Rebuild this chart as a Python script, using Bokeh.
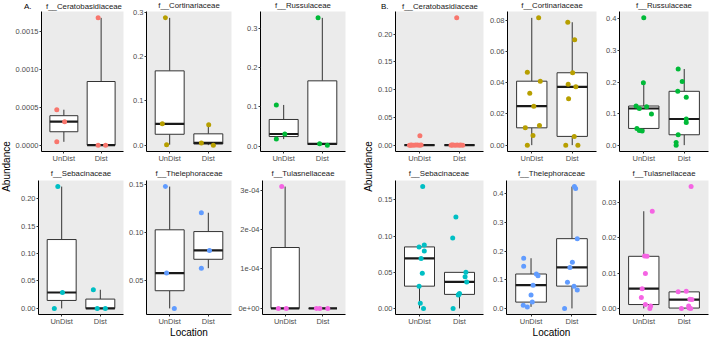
import numpy as np
from bokeh.plotting import figure
from bokeh.layouts import row, column
from bokeh.models import Range1d, FixedTicker, Label
from bokeh.embed import file_html
from bokeh.resources import INLINE

FONT = "Liberation Sans"

# x categories
groups = ["UnDist", "Dist"]
group_pos = [1, 2]

family_colors = {
    "f__Ceratobasidiaceae": "#F8766D",
    "f__Cortinariaceae": "#B79F00",
    "f__Russulaceae": "#00BA38",
    "f__Sebacinaceae": "#00BFC4",
    "f__Thelephoraceae": "#619CFF",
    "f__Tulasnellaceae": "#F564E3",
}

# ---- Panel A: relative abundance per sample (3 samples per location) ----
a_cer_undist = [0.000467, 0.000309, 0.000044]
a_cer_dist = [0.001677, 0.0, 0.0]
a_cor_undist = [0.287, 0.048, 0.001]
a_cor_dist = [0.046, 0.005, 0.0]
a_rus_undist = [0.105, 0.031, 0.018]
a_rus_dist = [0.327, 0.006, 0.0026]
a_seb_undist = [0.222, 0.029, 0.0]
a_seb_dist = [0.034, 0.0, 0.0]
a_the_undist = [0.1483, 0.0574, 0.0202]
a_the_dist = [0.1208, 0.0812, 0.0625]
a_tul_undist = [0.000309, 0.0, 0.0]
a_tul_dist = [0.0, 0.0, 0.0]

# horizontal jitter of the sample points (category units)
a_cer_undist_jit = [-0.19, 0.02, -0.19]
a_cer_dist_jit = [-0.08, -0.08, 0.12]
a_cor_undist_jit = [-0.11, -0.19, -0.08]
a_cor_dist_jit = [0.01, -0.18, 0.13]
a_rus_undist_jit = [-0.19, 0.03, -0.19]
a_rus_dist_jit = [-0.11, -0.07, 0.13]
a_seb_undist_jit = [-0.10, 0.02, -0.19]
a_seb_dist_jit = [-0.18, -0.08, 0.13]
a_the_undist_jit = [-0.11, -0.08, 0.12]
a_the_dist_jit = [-0.18, 0.03, -0.18]
a_tul_undist_jit = [-0.09, -0.18, 0.03]
a_tul_dist_jit = [-0.17, -0.08, 0.13]

# ---- Panel B: relative abundance per sample (9 samples per location) ----
b_cer_undist = [0.0168, 0.0, 0.0002, 0.0, 0.0004, 0.0001, 0.0, 0.0003, 0.0]
b_cer_dist = [0.2295, 0.0, 0.0003, 0.0, 0.0001, 0.0, 0.0002, 0.0, 0.0004]
b_cor_undist = [0.0816, 0.0468, 0.041, 0.0333, 0.025, 0.0126, 0.0111, 0.0062, 0.0]
b_cor_dist = [0.0788, 0.0675, 0.0464, 0.0391, 0.0374, 0.0297, 0.0056, 0.0, 0.0]
b_rus_undist = [0.4016, 0.198, 0.1248, 0.117, 0.1226, 0.0997, 0.0544, 0.048, 0.046]
b_rus_dist = [0.241, 0.202, 0.171, 0.152, 0.084, 0.073, 0.0346, 0.0104, 0.002]
b_seb_undist = [0.168, 0.0876, 0.085, 0.0793, 0.0692, 0.0487, 0.031, 0.0074, 0.0004]
b_seb_dist = [0.1263, 0.0974, 0.05, 0.0438, 0.0368, 0.021, 0.0197, 0.019, 0.0004]
b_the_undist = [0.175, 0.1467, 0.12, 0.1143, 0.081, 0.0467, 0.022, 0.011, 0.0053]
b_the_dist = [0.425, 0.418, 0.2433, 0.161, 0.143, 0.091, 0.0777, 0.0643, 0.0]
b_tul_undist = [0.0276, 0.0149, 0.0148, 0.00995, 0.0056, 0.0031, 0.0011, 0.0007, 0.0]
b_tul_dist = [0.0346, 0.0049, 0.0047, 0.0026, 0.0025, 0.0007, 0.0001, 0.0, 0.0]

b_cer_undist_jit = [0.01, -0.25, -0.20, -0.15, -0.10, -0.05, 0.0, 0.04, -0.22]
b_cer_dist_jit = [-0.07, -0.21, -0.16, -0.11, -0.06, -0.01, 0.03, 0.08, -0.19]
b_cor_undist_jit = [0.17, -0.11, 0.21, -0.05, 0.05, 0.19, -0.16, 0.03, -0.11]
b_cor_dist_jit = [-0.11, 0.06, 0.01, -0.10, 0.09, -0.09, 0.05, -0.16, 0.14]
b_rus_undist_jit = [0.0, -0.01, -0.19, -0.11, 0.07, 0.19, -0.17, -0.11, -0.04]
b_rus_dist_jit = [-0.15, -0.05, -0.16, 0.05, 0.05, 0.05, -0.15, -0.20, -0.20]
b_seb_undist_jit = [0.08, 0.12, -0.01, 0.12, 0.04, 0.07, -0.01, 0.02, 0.10]
b_seb_dist_jit = [-0.09, -0.17, 0.16, 0.14, 0.18, 0.0, -0.02, -0.03, -0.16]
b_the_undist_jit = [-0.18, -0.18, 0.13, 0.17, 0.05, 0.0, 0.03, -0.19, -0.09]
b_the_dist_jit = [0.06, 0.09, 0.13, 0.01, -0.05, -0.11, 0.05, 0.13, -0.18]
b_tul_undist_jit = [0.21, 0.02, 0.08, 0.04, -0.04, -0.06, 0.04, 0.17, 0.15]
b_tul_dist_jit = [0.17, 0.05, -0.15, 0.14, 0.19, 0.11, 0.12, -0.07, 0.16]

# y tick values and their labels for each facet
a_cer_ticks = [0.0, 0.0005, 0.001, 0.0015]
a_cer_tick_labels = ["0.0000", "0.0005", "0.0010", "0.0015"]
a_cor_ticks = [0.0, 0.1, 0.2, 0.3]
a_cor_tick_labels = ["0.0", "0.1", "0.2", "0.3"]
a_rus_ticks = [0.0, 0.1, 0.2, 0.3]
a_rus_tick_labels = ["0.0", "0.1", "0.2", "0.3"]
a_seb_ticks = [0.0, 0.05, 0.1, 0.15, 0.2]
a_seb_tick_labels = ["0.00", "0.05", "0.10", "0.15", "0.20"]
a_the_ticks = [0.05, 0.1, 0.15]
a_the_tick_labels = ["0.05", "0.10", "0.15"]
a_tul_ticks = [0.0, 0.0001, 0.0002, 0.0003]
a_tul_tick_labels = ["0e+00", "1e-04", "2e-04", "3e-04"]

b_cer_ticks = [0.0, 0.05, 0.1, 0.15, 0.2]
b_cer_tick_labels = ["0.00", "0.05", "0.10", "0.15", "0.20"]
b_cor_ticks = [0.0, 0.02, 0.04, 0.06, 0.08]
b_cor_tick_labels = ["0.00", "0.02", "0.04", "0.06", "0.08"]
b_rus_ticks = [0.0, 0.1, 0.2, 0.3, 0.4]
b_rus_tick_labels = ["0.0", "0.1", "0.2", "0.3", "0.4"]
b_seb_ticks = [0.0, 0.05, 0.1, 0.15]
b_seb_tick_labels = ["0.00", "0.05", "0.10", "0.15"]
b_the_ticks = [0.0, 0.1, 0.2, 0.3, 0.4]
b_the_tick_labels = ["0.0", "0.1", "0.2", "0.3", "0.4"]
b_tul_ticks = [0.0, 0.01, 0.02, 0.03]
b_tul_tick_labels = ["0.00", "0.01", "0.02", "0.03"]

BOX_LINE = "#333333"
PANEL_BG = "#EBEBEB"
BOX_WIDTH = 0.75
TITLE_SIZE = "7.8px"
TITLE_COLOR = "#1A1A1A"


def box_stats(values):
    a = np.asarray(values, dtype=float)
    q1, med, q3 = np.percentile(a, [25, 50, 75])
    iqr = q3 - q1
    lo = a[a >= q1 - 1.5 * iqr].min()
    hi = a[a <= q3 + 1.5 * iqr].max()
    return q1, med, q3, lo, hi


def facet(title, undist, undist_jit, dist, dist_jit, ticks, tick_labels,
          width, height, left, right, top, bottom):
    color = family_colors[title]
    allv = undist + dist
    lo, hi = min(allv), max(allv)
    pad = 0.05 * (hi - lo)
    p = figure(width=width, height=height,
               x_range=Range1d(0.4, 2.6), y_range=Range1d(lo - pad, hi + pad),
               output_backend="svg", toolbar_location=None,
               min_border_left=left, min_border_right=right,
               min_border_top=top, min_border_bottom=bottom)
    p.background_fill_color = PANEL_BG
    p.border_fill_color = "white"
    p.outline_line_color = None
    p.grid.visible = False

    for pos, vals in zip(group_pos, (undist, dist)):
        q1, med, q3, wlo, whi = box_stats(vals)
        p.segment(x0=[pos], y0=[q3], x1=[pos], y1=[whi], line_color=BOX_LINE, line_width=1)
        p.segment(x0=[pos], y0=[q1], x1=[pos], y1=[wlo], line_color=BOX_LINE, line_width=1)
        p.vbar(x=[pos], width=BOX_WIDTH, bottom=[q1], top=[q3],
               fill_color="white", line_color=BOX_LINE, line_width=1)
        p.segment(x0=[pos - BOX_WIDTH / 2], y0=[med], x1=[pos + BOX_WIDTH / 2], y1=[med],
                  line_color="#1A1A1A", line_width=2.2)

    for pos, vals, jit in zip(group_pos, (undist, dist), (undist_jit, dist_jit)):
        xs = [pos + j for j in jit]
        p.scatter(x=xs, y=vals, size=5, fill_color=color, line_color=None)

    p.xaxis.ticker = FixedTicker(ticks=group_pos)
    p.xaxis.major_label_overrides = dict(zip(group_pos, groups))
    p.yaxis.ticker = FixedTicker(ticks=ticks)
    p.yaxis.major_label_overrides = dict(zip(ticks, tick_labels))
    for ax in (p.xaxis[0], p.yaxis[0]):
        ax.axis_line_color = "black"
        ax.axis_line_width = 1
        ax.major_tick_line_color = "#333333"
        ax.major_tick_in = 0
        ax.major_tick_out = 2
        ax.minor_tick_line_color = None
        ax.major_label_text_font = FONT
        ax.major_label_text_font_size = "7.5px"
        ax.major_label_text_color = "#4D4D4D"
    p.xaxis.major_label_standoff = 0
    p.yaxis.major_label_standoff = 1
    return p


def set_title(p, text):
    p.title.text = text
    p.title.align = "center"
    p.title.vertical_align = "top"
    p.title.standoff = 0
    p.title.text_font = FONT
    p.title.text_font_size = TITLE_SIZE
    p.title.text_font_style = "normal"
    p.title.text_color = TITLE_COLOR


def set_x_title(p):
    p.xaxis.axis_label = "Location"
    p.xaxis.axis_label_standoff = -2
    p.xaxis.axis_label_text_font = FONT
    p.xaxis.axis_label_text_font_size = "10px"
    p.xaxis.axis_label_text_font_style = "normal"
    p.xaxis.axis_label_text_color = "black"


def blank(width, height, left=0, right=0, y_axis=None):
    p = figure(width=width, height=height, x_range=Range1d(0, 1), y_range=Range1d(0, 1),
               output_backend="svg", toolbar_location=None,
               x_axis_location=None, y_axis_location=y_axis,
               min_border_left=left, min_border_right=right,
               min_border_top=0, min_border_bottom=0)
    p.outline_line_color = None
    p.grid.visible = False
    return p


def put_text(p, text, x, y, size, color="black", angle=0, baseline="middle"):
    p.add_layout(Label(x=x, y=y, x_units="screen", y_units="screen",
                       text=text, angle=angle, angle_units="deg",
                       text_align="center", text_baseline=baseline,
                       text_font=FONT, text_font_size=size, text_color=color))


def y_title_strip(width):
    p = blank(width, 340)
    put_text(p, "Abundance", width / 2, 174, "10px", angle=90)
    return p


def tag_band(col, title, tag, tag_gap, height):
    # strip above the first facet: panel letter on the left, facet name centred
    w, l, r = col
    p = blank(w, height, left=l, right=r, y_axis="left")
    ax = p.yaxis[0]
    ax.ticker = FixedTicker(ticks=[0.55])
    ax.major_label_overrides = {0.55: tag}
    ax.axis_line_color = None
    ax.major_tick_line_color = None
    ax.minor_tick_line_color = None
    ax.major_tick_out = 0
    ax.major_tick_in = 0
    ax.major_label_standoff = tag_gap
    ax.major_label_text_font = FONT
    ax.major_label_text_font_size = "8px"
    ax.major_label_text_color = "black"
    put_text(p, title, (w - l - r) / 2, height, TITLE_SIZE, TITLE_COLOR, baseline="top")
    return p


def title_band(cols, titles, height, y):
    width = sum(c[0] for c in cols)
    p = blank(width, height)
    x0 = 0
    for (w, l, r), t in zip(cols, titles):
        put_text(p, t, x0 + l + (w - l - r) / 2, y, TITLE_SIZE, TITLE_COLOR)
        x0 += w
    return p


# vertical geometry
TOP_FULL = 11          # frame top of the upper row
BAND1 = 11             # strip carrying the panel letter
ROW1_BOTTOM = 15
BAND2 = 12             # title strip above the lower row
ROW2_TOP, ROW2_BOTTOM = 2, 20
FRAME_H = 140
# column geometry: (width, left, right)
A_COLS = [(113, 26, 2), (110, 21, 4), (127, 25, 17)]
B_COLS = [(112, 20, 3), (112, 20, 2), (111, 21, 1)]

a_specs = [
    ("f__Ceratobasidiaceae", a_cer_undist, a_cer_undist_jit, a_cer_dist, a_cer_dist_jit, a_cer_ticks, a_cer_tick_labels),
    ("f__Cortinariaceae", a_cor_undist, a_cor_undist_jit, a_cor_dist, a_cor_dist_jit, a_cor_ticks, a_cor_tick_labels),
    ("f__Russulaceae", a_rus_undist, a_rus_undist_jit, a_rus_dist, a_rus_dist_jit, a_rus_ticks, a_rus_tick_labels),
    ("f__Sebacinaceae", a_seb_undist, a_seb_undist_jit, a_seb_dist, a_seb_dist_jit, a_seb_ticks, a_seb_tick_labels),
    ("f__Thelephoraceae", a_the_undist, a_the_undist_jit, a_the_dist, a_the_dist_jit, a_the_ticks, a_the_tick_labels),
    ("f__Tulasnellaceae", a_tul_undist, a_tul_undist_jit, a_tul_dist, a_tul_dist_jit, a_tul_ticks, a_tul_tick_labels),
]
b_specs = [
    ("f__Ceratobasidiaceae", b_cer_undist, b_cer_undist_jit, b_cer_dist, b_cer_dist_jit, b_cer_ticks, b_cer_tick_labels),
    ("f__Cortinariaceae", b_cor_undist, b_cor_undist_jit, b_cor_dist, b_cor_dist_jit, b_cor_ticks, b_cor_tick_labels),
    ("f__Russulaceae", b_rus_undist, b_rus_undist_jit, b_rus_dist, b_rus_dist_jit, b_rus_ticks, b_rus_tick_labels),
    ("f__Sebacinaceae", b_seb_undist, b_seb_undist_jit, b_seb_dist, b_seb_dist_jit, b_seb_ticks, b_seb_tick_labels),
    ("f__Thelephoraceae", b_the_undist, b_the_undist_jit, b_the_dist, b_the_dist_jit, b_the_ticks, b_the_tick_labels),
    ("f__Tulasnellaceae", b_tul_undist, b_tul_undist_jit, b_tul_dist, b_tul_dist_jit, b_tul_ticks, b_tul_tick_labels),
]


def build_panel(specs, cols, tag, tag_gap):
    upper = []
    for i in range(3):
        w, l, r = cols[i]
        if i == 0:
            f = facet(*specs[i], width=w, height=TOP_FULL - BAND1 + FRAME_H + ROW1_BOTTOM,
                      left=l, right=r, top=TOP_FULL - BAND1, bottom=ROW1_BOTTOM)
            band = tag_band(cols[i], specs[i][0], tag, tag_gap, BAND1)
            upper.append(column(band, f))
        else:
            f = facet(*specs[i], width=w, height=TOP_FULL + FRAME_H + ROW1_BOTTOM,
                      left=l, right=r, top=TOP_FULL, bottom=ROW1_BOTTOM)
            set_title(f, specs[i][0])
            upper.append(f)

    lower = []
    for i in range(3):
        w, l, r = cols[i]
        f = facet(*specs[3 + i], width=w, height=ROW2_TOP + FRAME_H + ROW2_BOTTOM,
                  left=l, right=r, top=ROW2_TOP, bottom=ROW2_BOTTOM)
        if i == 1:
            set_x_title(f)
        lower.append(f)
    band2 = title_band(cols, [s[0] for s in specs[3:]], BAND2, BAND2 - 7)
    return column(row(*upper), band2, row(*lower))


panel_a = build_panel(a_specs, A_COLS, "A.", 10)
panel_b = build_panel(b_specs, B_COLS, "B.", 7)

layout = row(y_title_strip(12), panel_a, y_title_strip(12), panel_b)

open("out.html", "w").write(file_html(layout, INLINE, title="Abundance by location"))
